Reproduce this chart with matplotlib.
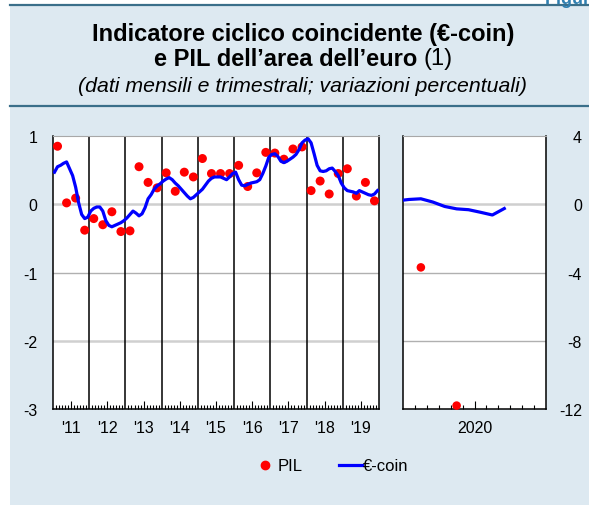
import numpy as np
import matplotlib
matplotlib.use('Agg')
import matplotlib.pyplot as plt
from matplotlib.patches import Rectangle
from matplotlib.lines import Line2D

plt.rcParams['font.family'] = ['Liberation Sans', 'DejaVu Sans']

# --- data ---
years = ["'11", "'12", "'13", "'14", "'15", "'16", "'17", "'18", "'19"]

# euro-coin, monthly, Jan 2011 - Dec 2019
ecoin = [
    0.47, 0.55, 0.57, 0.60, 0.62, 0.52, 0.42, 0.25, 0.02, -0.15, -0.21, -0.19,
    -0.10, -0.06, -0.04, -0.04, -0.10, -0.24, -0.31, -0.33, -0.31, -0.29, -0.27, -0.24,
    -0.20, -0.15, -0.10, -0.13, -0.17, -0.14, -0.05, 0.08, 0.14, 0.22, 0.27, 0.30,
    0.34, 0.37, 0.39, 0.36, 0.31, 0.27, 0.22, 0.17, 0.12, 0.08, 0.10, 0.14,
    0.18, 0.22, 0.28, 0.34, 0.38, 0.40, 0.40, 0.40, 0.38, 0.36, 0.40, 0.45,
    0.47, 0.36, 0.28, 0.27, 0.29, 0.31, 0.32, 0.33, 0.36, 0.45, 0.56, 0.69,
    0.73, 0.74, 0.70, 0.63, 0.61, 0.63, 0.66, 0.69, 0.73, 0.80, 0.90, 0.94,
    0.96, 0.90, 0.74, 0.57, 0.49, 0.48, 0.49, 0.52, 0.53, 0.48, 0.42, 0.31,
    0.24, 0.20, 0.19, 0.18, 0.16, 0.20, 0.18, 0.16, 0.14, 0.13, 0.15, 0.20,
]

# PIL (GDP), quarterly q/q, Q1 2011 - Q4 2019
pil = [
    0.85, 0.02, 0.09, -0.38,
    -0.21, -0.30, -0.11, -0.40,
    -0.39, 0.55, 0.32, 0.24,
    0.46, 0.19, 0.47, 0.40,
    0.67, 0.45, 0.45, 0.45,
    0.57, 0.26, 0.46, 0.76,
    0.75, 0.66, 0.81, 0.84,
    0.20, 0.34, 0.15, 0.45,
    0.52, 0.12, 0.32, 0.05,
]

# 2020 panel: Dec 2019 then Jan - Sep 2020 (euro-coin), Q1-Q2 2020 (PIL)
ecoin_2020 = [0.20, 0.28, 0.32, 0.13, -0.13, -0.27, -0.32, -0.47, -0.63, -0.25]
pil_2020 = [-3.7, -11.8]

# --- figure ---
W, H = 589, 506
fig = plt.figure(figsize=(W / 100, H / 100), dpi=100, facecolor='#dde9f1')

def fx(px):
    return px / W

def fy(py):
    return 1 - py / H

# white margins and the title box rules
fig.patches.append(Rectangle((0, 0), fx(10), 1, transform=fig.transFigure,
                             facecolor='white', edgecolor='none', zorder=0))
fig.patches.append(Rectangle((0, fy(6)), 1, 6 / H, transform=fig.transFigure,
                             facecolor='white', edgecolor='none', zorder=0))
for yy in (6, 107):
    fig.add_artist(Line2D([fx(10), 1], [fy(yy), fy(yy)], color='#3a6f8a', lw=1.6))

fig.text(fx(545), fy(4), 'Figura 6', fontsize=13, fontweight='bold',
         color='#2f7fb0', ha='left', va='baseline')

# title
xc = fx(303)
fig.text(xc, fy(34), 'Indicatore ciclico coincidente (€-coin)', ha='center', va='center',
         fontsize=17, fontweight='bold')
t_bold = fig.text(0, fy(59), 'e PIL dell’area dell’euro ', ha='left', va='center',
                  fontsize=17, fontweight='bold')
t_reg = fig.text(0, fy(59), '(1)', ha='left', va='center', fontsize=17)
fig.canvas.draw()
r = fig.canvas.get_renderer()
wb = t_bold.get_window_extent(r).width
wr = t_reg.get_window_extent(r).width
x0 = 303 - (wb + wr) / 2
t_bold.set_x(fx(x0))
t_reg.set_x(fx(x0 + wb))
fig.text(xc, fy(87), '(dati mensili e trimestrali; variazioni percentuali)', ha='center',
         va='center', fontsize=15.3, style='italic')

# --- left panel ---
ax = fig.add_axes([fx(53), fy(410), fx(379 - 53), (410 - 137) / H])
ax.set_facecolor('white')
n_m = len(ecoin)
xm = np.arange(n_m) + 0.5
xq = np.arange(len(pil)) * 3 + 1.5

for yv, c, lw in [(0, '#cfcfcf', 1.8), (-1, '#b0b0b0', 1.0), (-2, '#d0d0d0', 1.8)]:
    ax.axhline(yv, color=c, lw=lw, zorder=1)
for k in range(1, len(years)):
    ax.axvline(12 * k, color='black', lw=1.1, zorder=2)

ax.scatter(xq, pil, s=42, color='#ff0000', edgecolors='none', zorder=3)
ax.plot(xm, ecoin, color='#0000ff', lw=2.3, zorder=4)

ax.set_xlim(0, 12 * len(years))
ax.set_ylim(-3, 1)
ax.set_yticks([1, 0, -1, -2, -3])
ax.set_yticklabels(['1', '0', '-1', '-2', '-3'])
ax.set_xticks(np.arange(len(years)) * 12 + 6)
ax.set_xticklabels(years)
ax.set_xticks([m for m in range(1, 12 * len(years)) if m % 12 not in (0, 6)], minor=True)
ax.tick_params(axis='x', which='major', direction='in', length=6, width=0.8, labelsize=11.5, pad=8)
ax.tick_params(axis='x', which='minor', direction='in', length=3, width=0.8)
ax.tick_params(axis='y', length=0, labelsize=11.5, pad=11)
for s in ('left', 'bottom', 'right'):
    ax.spines[s].set_color('black')
    ax.spines[s].set_linewidth(1.1)
ax.spines['top'].set_color('#a8a8a8')

# --- right panel (2020) ---
ax2 = fig.add_axes([fx(403), fy(410), fx(546 - 403), (410 - 137) / H])
ax2.set_facecolor('white')
for yv, c, lw in [(0, '#cfcfcf', 1.8), (-4, '#b0b0b0', 1.0), (-8, '#b0b0b0', 1.0)]:
    ax2.axhline(yv, color=c, lw=lw, zorder=1)
xm2 = np.arange(len(ecoin_2020)) - 0.5
ax2.scatter([1.5, 4.5], pil_2020, s=38, color='#ff0000', edgecolors='none', zorder=3,
            clip_on=False)
ax2.plot(xm2, ecoin_2020, color='#0000ff', lw=2.3, zorder=4)
ax2.set_xlim(0, 12)
ax2.set_ylim(-12, 4)
ax2.set_xticks([6])
ax2.set_xticklabels(['2020'])
ax2.set_xticks([m for m in range(1, 12) if m != 6], minor=True)
ax2.yaxis.tick_right()
ax2.set_yticks([4, 0, -4, -8, -12])
ax2.set_yticklabels(['4', '0', '-4', '-8', '-12'])
for lab in ax2.get_yticklabels():
    lab.set_horizontalalignment('right')
ax2.tick_params(axis='y', length=0, labelsize=11.5, pad=26)
ax2.tick_params(axis='x', which='major', direction='in', length=6, width=0.8, labelsize=11.5, pad=8)
ax2.tick_params(axis='x', which='minor', direction='in', length=3, width=0.8)
for s in ('left', 'bottom', 'right'):
    ax2.spines[s].set_color('black')
    ax2.spines[s].set_linewidth(1.1)
ax2.spines['top'].set_color('#a8a8a8')

# --- legend ---
handles = [
    Line2D([], [], marker='o', ls='none', color='#ff0000', markersize=6, label='PIL'),
    Line2D([], [], color='#0000ff', lw=2.3, label='€-coin'),
]
fig.legend(handles=handles, loc='center', bbox_to_anchor=(fx(331), fy(467)), ncol=2,
           frameon=False, fontsize=12, handlelength=1.4, handletextpad=0.05,
           columnspacing=2.2)

fig.savefig('out.png', dpi=100, facecolor=fig.get_facecolor())
